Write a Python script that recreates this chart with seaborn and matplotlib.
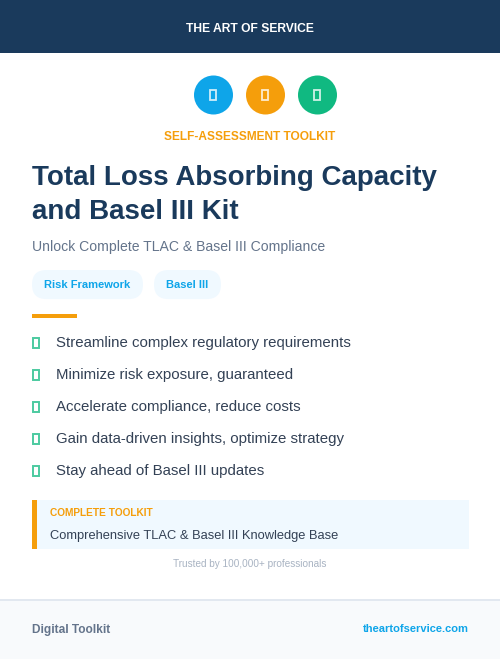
import matplotlib
matplotlib.use('Agg')
import matplotlib.pyplot as plt
from matplotlib.patches import Rectangle, Circle, FancyBboxPatch
import seaborn as sns

sns.set_theme(style='white')
plt.rcParams['font.family'] = ['Liberation Sans', 'DejaVu Sans']

NAVY = '#1a3a5c'
ORANGE = '#f59e0b'
BLUE = '#0ea5e9'
GREEN = '#10b981'

icon_colors = [BLUE, ORANGE, GREEN]
icon_x = [213.5, 265.5, 317.5]
tags = ['Risk Framework', 'Basel III']
tag_x = [32, 154]
tag_w = [111, 67]
bullets = [
    'Streamline complex regulatory requirements',
    'Minimize risk exposure, guaranteed',
    'Accelerate compliance, reduce costs',
    'Gain data-driven insights, optimize strategy',
    'Stay ahead of Basel III updates',
]
bullet_y = [342, 374, 406, 438, 470]
title_lines = ['Total Loss Absorbing Capacity', 'and Basel III Kit']
title_y = [175, 209]

fig = plt.figure(figsize=(5, 6.59), dpi=100)
ax = fig.add_axes([0, 0, 1, 1])
ax.set_xlim(0, 500)
ax.set_ylim(659, 0)
ax.axis('off')


def txt(x, y, s, size, color, weight='normal', ha='left'):
    ax.text(x, y, s, fontsize=size, color=color, fontweight=weight, ha=ha, va='center_baseline')


def tofu(x, y, w, h, color, lw=1.2, alpha=1.0):
    # missing glyph boxes, same as in the cover
    ax.add_patch(Rectangle((x - w / 2, y - h / 2), w, h, fill=False, ec=color, lw=lw, alpha=alpha))


# header
ax.add_patch(Rectangle((0, 0), 500, 53, fc=NAVY, ec='none'))
txt(250, 27, 'THE ART OF SERVICE', 8.7, 'white', 'bold', 'center')

# icons
for x, c in zip(icon_x, icon_colors):
    ax.add_patch(Circle((x, 95), 19.5, fc=c, ec='none'))
    tofu(x - 0.5, 95, 6.5, 10, 'white', 1.3, 0.8)

txt(249.5, 135.5, 'SELF-ASSESSMENT TOOLKIT', 8.6, ORANGE, 'bold', 'center')

# title
for y, line in zip(title_y, title_lines):
    txt(32, y, line, 19.95, NAVY, 'bold')

txt(32, 245, 'Unlock Complete TLAC & Basel III Compliance', 10.1, '#64748b')

# tags
for x, w, t in zip(tag_x, tag_w, tags):
    ax.add_patch(FancyBboxPatch((x + 14.5, 284.5), w - 29, 0.1, boxstyle='round,pad=14.5,rounding_size=14.5',
                                fc='#f0f9ff', ec='none'))
    txt(x + w / 2, 283.5, t, 8.0, BLUE, 'bold', 'center')

ax.add_patch(Rectangle((32, 314), 45, 4, fc=ORANGE, ec='none'))

# bullets
for y, b in zip(bullet_y, bullets):
    tofu(36, y + 0.5, 6.5, 10, GREEN, 1.4, 0.75)
    txt(56, y, b, 10.85, '#334155')

# callout
ax.add_patch(Rectangle((32, 500), 437, 49, fc='#f0f9ff', ec='none'))
ax.add_patch(Rectangle((32, 500), 5, 49, fc=ORANGE, ec='none'))
txt(50, 512.5, 'COMPLETE TOOLKIT', 7.3, ORANGE, 'bold')
txt(50, 534.5, 'Comprehensive TLAC & Basel III Knowledge Base', 9.3, '#334155')

txt(250, 563, 'Trusted by 100,000+ professionals', 7.2, '#a8b3c2', 'normal', 'center')

# footer
ax.add_patch(Rectangle((0, 599), 500, 60, fc='#f8fafc', ec='none'))
ax.add_patch(Rectangle((0, 599), 500, 2, fc='#e2e8f0', ec='none'))
txt(32, 628.5, 'Digital Toolkit', 8.6, '#64748b', 'bold')
txt(468.5, 628, 'theartofservice.com', 8.0, BLUE, 'bold', 'right')

fig.savefig('out.png', dpi=100)
